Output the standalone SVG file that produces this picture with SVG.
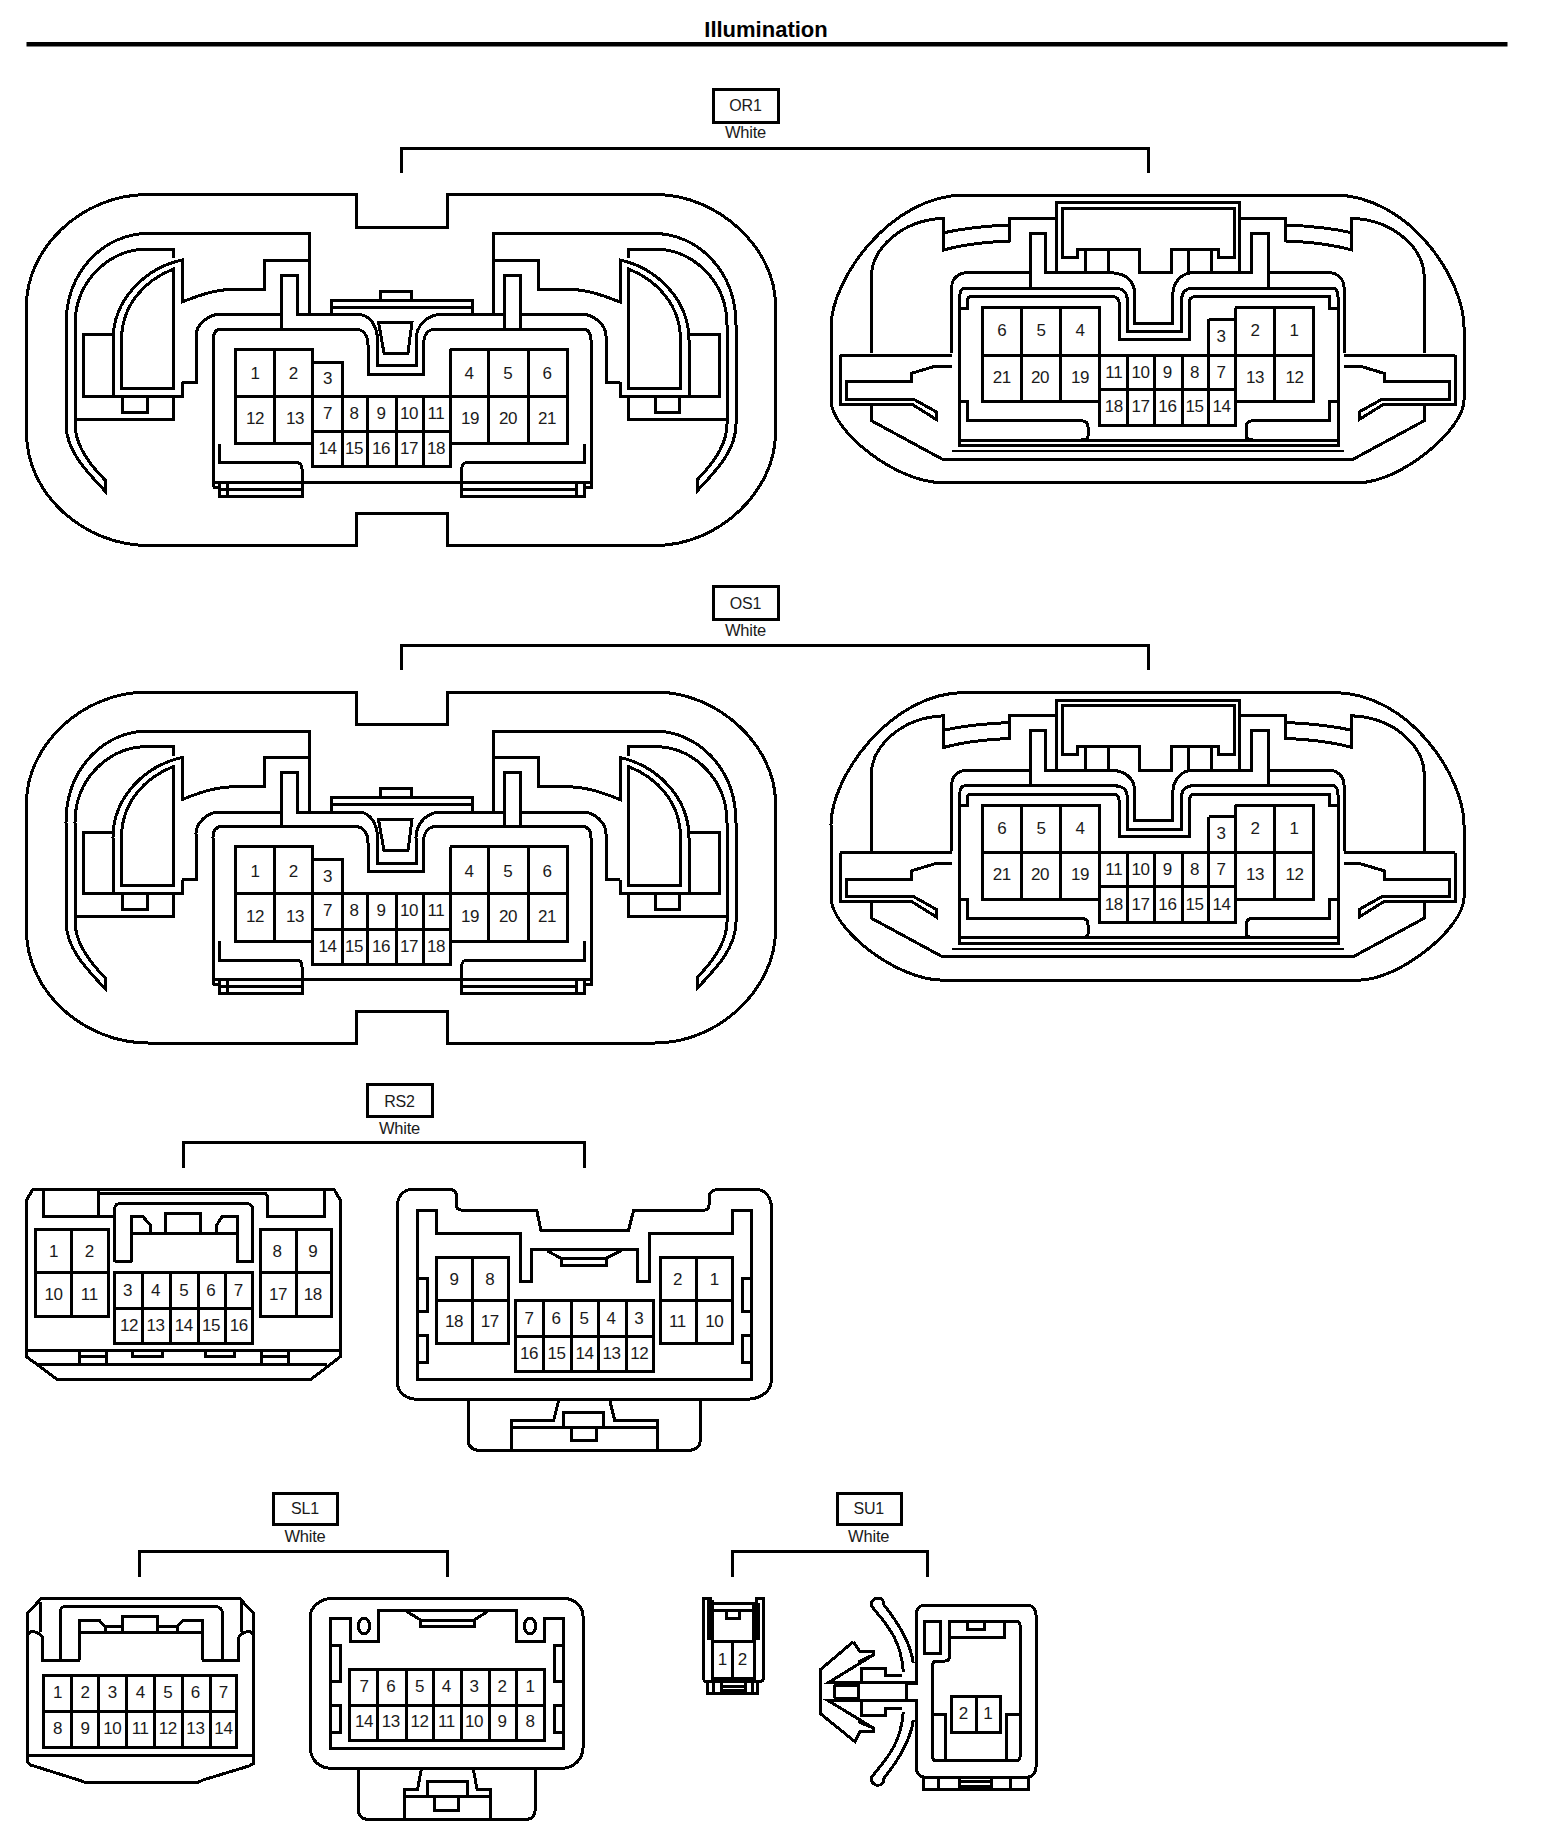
<svg xmlns="http://www.w3.org/2000/svg" xmlns:xlink="http://www.w3.org/1999/xlink" width="1568" height="1848" viewBox="0 0 1568 1848">
<style>
.l{fill:none;stroke:#000;stroke-width:3;stroke-linejoin:miter;shape-rendering:crispEdges}
.t{font-family:"Liberation Sans",Arial,sans-serif;font-size:17px;letter-spacing:-.4px;text-anchor:middle;fill:#1a1a1a}
.n{font-family:"Liberation Sans",Arial,sans-serif;font-size:16px;letter-spacing:-.2px;text-anchor:middle;fill:#1a1a1a}
.c{font-family:"Liberation Sans",Arial,sans-serif;font-size:16.5px;letter-spacing:-.2px;text-anchor:middle;fill:#1a1a1a}
</style>
<defs>
<path id="orWing" class="l" d="M309 314.5V233.5H148C105 233.5 66 270 66 325V424C66 450 85 470 105 491V480C90 465 75 445 75 424V325C75 280 110 249 148 249H173.5V258M309 260H264V289H240C215 289 200 295 182 302V260C145 268 113 300 113 340V396H83V334.5H113M121.5 388V340C121.5 305 145 280 173.5 269V388ZM182 382V396H113M182 382H196V336C196 325 208 314.5 219 314.5H281.5M173.5 396V419H75M122.5 396V412H147V396"/>
<g id="orLeft">
<path class="l" d="M356 194.5H148C80 194.5 26.5 250 26.5 305V433C26.5 495 85 545.5 148 545.5H356V513.5H447.5V545.5H655C720 545.5 775.5 490 775.5 433V305C775.5 250 720 194.5 655 194.5H447.5V227H356Z"/>
<use xlink:href="#orWing" href="#orWing"/>
<use xlink:href="#orWing" href="#orWing" transform="translate(802 0) scale(-1 1)"/>
<path class="l" d="M281.5 329V275H297.5V314.5H360C370 316 377 325 377.5 340V365.5H416V340C416 325 428 314.5 441 314.5H504.5V329M504.5 314.5V275H520.5V329M378.5 322H412L408 353H384ZM213 487V340C213 333 216 329 222 329H355C363 329 368 335 368 345V374H423.5V345C423.5 335 428 329 436 329H582C588 329 591 333 591 340V487H584M213 487H219.4M213 482H591M331.5 313V300H472V313M331.5 307.3H472M380 300V291H411V300"/>
<path class="l" d="M219.4 443.6V462.5H296C300 462.5 302 465 302 469V482M219.4 482V496H302V482M227 482V496M219.4 489H302M584 443.6V462.5H467C464 462.5 461.7 465 461.7 469V482M461.7 482V496H584V482M576.5 482V496M461.7 489H576.5"/>
<path class="l" d="M235.7 349H312.8V443.6H235.7ZM274.5 349V443.6M235.7 396.4H567.3M312.8 362H342V466.5H312.8V349M312.8 431.6H450M342 466.5H450V349M367.3 396.4V466.5M396.4 396.4V466.5M423.5 396.4V466.5M450 349H567.3V443.6H450M488.8 349V443.6M528 349V443.6"/>
</g>
<path id="orArm" class="l" d="M871.4 353.3V276.7C871.4 250 900 220 943.8 218.3V250C965 244 985 242 1009.8 241V218.3H1056.7M943.8 232.7C965 228 985 226 1009.8 225M840.2 355H951.8M840.2 355V404H911.6L936 419.3V411.7L913.8 399.3H846V381.7H911.6V373.3L936 366H951.8M871.4 405V420.7L942 459H1147.8"/>
<g id="orRight">
<path class="l" d="M965 195H1333.5C1410 195 1464 280 1464 327V400C1464 430 1400 482.7 1358 482.7H943C895 482.7 831 430 831 400V327C831 280 890 195 965 195Z"/>
<use xlink:href="#orArm" href="#orArm"/>
<use xlink:href="#orArm" href="#orArm" transform="translate(2295.6 0) scale(-1 1)"/>
<path class="l" d="M1056.7 272.7V202.7H1239.7V272.7M1062 208.3H1234V257.3H1218.8V249.3H1171.4V272.7H1139.3V249.3H1077.7V257.3H1062ZM1085.7 249.3V272.7M1108 249.3V272.7M1188.4 249.3V272.7M1211.6 249.3V272.7"/>
<path class="l" d="M951.8 353.3V286.7C951.8 279 958 272.7 967.4 272.7H1030V233.3H1045.5V272.7H1112.5C1125 274 1134.8 280 1134.8 295V323.3H1172.8V295C1172.8 282 1182 272.7 1192.9 272.7H1251V233.3H1268.7V272.7H1329C1337 272.7 1344 279 1344 287V353.3M1030 272.7V288.3M1268.7 272.7V288.3"/>
<path class="l" d="M959.8 445.7V296.7C959.8 292 961 288.3 965 288.3H1114.7C1122 288.3 1127.2 292 1127.2 299V331.7H1181.7V299C1181.7 292 1186 288.3 1192.9 288.3H1333.5C1336 288.3 1338 292 1338 297V445.7ZM959.8 308.3H967.4V300C967.4 298 969 296.7 972 296.7H1112.5C1117 296.7 1119.2 299 1119.2 303.3V339.3H1189.3V303C1189.3 299 1191 296.7 1195 296.7H1329V308.3H1338M959.8 401.7H967.4V420.7H1081C1086 420.7 1088 423 1088 427V436C1088 438 1086 440 1081 440M1338 401.7H1329V420.7H1253C1248 420.7 1246.4 423 1246.4 427V436C1246.4 438 1248 440 1253 440M959.8 440H1338"/>
<path class="l" style="stroke-width:2" d="M951.8 451H1343.8"/>
<path class="l" d="M982 307.7H1099V401.7H982ZM1021.9 307.7V401.7M1060.3 307.7V401.7M982 355H1313.4M1099 307.7V425H1235.3V307.7M1099 389.3H1235.3M1127.2 355V425M1154 355V425M1182.6 355V425M1208.5 319.3V425M1208.5 319.3H1235.3M1235.3 307.7H1313.4V401.7H1235.3M1274.6 307.7V401.7"/>
</g>
</defs>

<g id="title">
<text x="766" y="37" font-family="Liberation Sans, Arial, sans-serif" font-size="22" font-weight="bold" text-anchor="middle">Illumination</text>
<rect x="26.5" y="42" width="1481" height="4.5" fill="#000"/>
</g>

<g id="connectors">
<path class="l" d="M401.5 172.7V148H1148V172.7"/>
<path class="l" d="M401.5 670.2V645.5H1148V670.2"/>
<path class="l" d="M183.7 1168.3V1142.3H584V1168.3"/>
<path class="l" d="M139.8 1576.7V1551.7H447V1576.7"/>
<path class="l" d="M732.3 1576.7V1551.7H927.3V1576.7"/>
</g>

<g id="OR1-label">
<rect class="l" x="713" y="89" width="65" height="33"/>
<text class="n" x="745.5" y="111">OR1</text>
<text class="c" x="745.5" y="138">White</text>
</g>
<g id="OR1-left">
<use xlink:href="#orLeft" href="#orLeft"/>
<g id="OR1-left-pins">
<text class="t" x="255" y="379">1</text><text class="t" x="293.4" y="379">2</text><text class="t" x="327.5" y="384">3</text><text class="t" x="469" y="379">4</text><text class="t" x="507.7" y="379">5</text><text class="t" x="547" y="379">6</text>
<text class="t" x="327.5" y="418.7">7</text><text class="t" x="354" y="418.7">8</text><text class="t" x="381" y="418.7">9</text><text class="t" x="409" y="418.7">10</text><text class="t" x="436" y="418.7">11</text>
<text class="t" x="255" y="424">12</text><text class="t" x="295" y="424">13</text><text class="t" x="470" y="424">19</text><text class="t" x="508" y="424">20</text><text class="t" x="547" y="424">21</text>
<text class="t" x="327.5" y="454.4">14</text><text class="t" x="354" y="454.4">15</text><text class="t" x="381" y="454.4">16</text><text class="t" x="409" y="454.4">17</text><text class="t" x="436" y="454.4">18</text>
</g>
</g>
<g id="OR1-right">
<use xlink:href="#orRight" href="#orRight"/>
<g id="OR1-right-pins">
<text class="t" x="1001.8" y="336">6</text><text class="t" x="1041" y="336">5</text><text class="t" x="1080" y="336">4</text><text class="t" x="1221" y="341.7">3</text><text class="t" x="1255" y="336">2</text><text class="t" x="1294" y="336">1</text>
<text class="t" x="1113.8" y="377.7">11</text><text class="t" x="1140.6" y="377.7">10</text><text class="t" x="1167.4" y="377.7">9</text><text class="t" x="1194.6" y="377.7">8</text><text class="t" x="1221" y="377.7">7</text>
<text class="t" x="1001.8" y="382.7">21</text><text class="t" x="1040" y="382.7">20</text><text class="t" x="1080" y="382.7">19</text><text class="t" x="1255" y="382.7">13</text><text class="t" x="1294.6" y="382.7">12</text>
<text class="t" x="1113.8" y="412">18</text><text class="t" x="1140.6" y="412">17</text><text class="t" x="1167.4" y="412">16</text><text class="t" x="1194.6" y="412">15</text><text class="t" x="1221.5" y="412">14</text>
</g>
</g>

<g id="OS1-label" transform="translate(0 497.5)">
<rect class="l" x="713" y="89" width="65" height="33"/>
<text class="n" x="745.5" y="111">OS1</text>
<text class="c" x="745.5" y="138">White</text>
</g>
<g id="OS1-left" transform="translate(0 497.5)">
<use xlink:href="#orLeft" href="#orLeft"/>
<g id="OS1-left-pins">
<text class="t" x="255" y="379">1</text><text class="t" x="293.4" y="379">2</text><text class="t" x="327.5" y="384">3</text><text class="t" x="469" y="379">4</text><text class="t" x="507.7" y="379">5</text><text class="t" x="547" y="379">6</text>
<text class="t" x="327.5" y="418.7">7</text><text class="t" x="354" y="418.7">8</text><text class="t" x="381" y="418.7">9</text><text class="t" x="409" y="418.7">10</text><text class="t" x="436" y="418.7">11</text>
<text class="t" x="255" y="424">12</text><text class="t" x="295" y="424">13</text><text class="t" x="470" y="424">19</text><text class="t" x="508" y="424">20</text><text class="t" x="547" y="424">21</text>
<text class="t" x="327.5" y="454.4">14</text><text class="t" x="354" y="454.4">15</text><text class="t" x="381" y="454.4">16</text><text class="t" x="409" y="454.4">17</text><text class="t" x="436" y="454.4">18</text>
</g>
</g>
<g id="OS1-right" transform="translate(0 497.5)">
<use xlink:href="#orRight" href="#orRight"/>
<g id="OS1-right-pins">
<text class="t" x="1001.8" y="336">6</text><text class="t" x="1041" y="336">5</text><text class="t" x="1080" y="336">4</text><text class="t" x="1221" y="341.7">3</text><text class="t" x="1255" y="336">2</text><text class="t" x="1294" y="336">1</text>
<text class="t" x="1113.8" y="377.7">11</text><text class="t" x="1140.6" y="377.7">10</text><text class="t" x="1167.4" y="377.7">9</text><text class="t" x="1194.6" y="377.7">8</text><text class="t" x="1221" y="377.7">7</text>
<text class="t" x="1001.8" y="382.7">21</text><text class="t" x="1040" y="382.7">20</text><text class="t" x="1080" y="382.7">19</text><text class="t" x="1255" y="382.7">13</text><text class="t" x="1294.6" y="382.7">12</text>
<text class="t" x="1113.8" y="412">18</text><text class="t" x="1140.6" y="412">17</text><text class="t" x="1167.4" y="412">16</text><text class="t" x="1194.6" y="412">15</text><text class="t" x="1221.5" y="412">14</text>
</g>
</g>

<g id="RS2-label">
<rect class="l" x="367.3" y="1084" width="64.7" height="32.7"/>
<text class="n" x="399.5" y="1106.5">RS2</text>
<text class="c" x="399.5" y="1133.5">White</text>
</g>
<g id="RS2-left">
<path class="l" d="M33 1189.3H334L340.3 1200V1356.7L311 1379.3H57L26.5 1356.7V1200ZM26.5 1350.7H340.3M38 1364H326.5M43.4 1191V1216.7H113.3M98 1191V1216.7M99.5 1193.3H265.3L267.9 1197V1216.7H324V1191"/>
<path class="l" d="M114.8 1261.7V1208.3C114.8 1205 118 1203.3 122.4 1203.3H245C249 1203.3 252.6 1205 252.6 1208.3V1261.7H237.2V1216.7H222L216.8 1225V1233.3M131.6 1233.3H237.2M131.6 1261.7V1216.7H142.9L150.5 1225V1233.3M114.8 1261.7H131.6M165.8 1233.3V1213.3H200.5V1233.3"/>
<path class="l" d="M79 1351V1364M106 1351V1364M79 1356.7H106M132.7 1351V1356H162V1351M205 1351V1356H234.7V1351M261 1351V1364M288 1351V1364M261 1356.7H288"/>
<path class="l" d="M35.7 1229.3H108.2V1316.7H35.7ZM71.4 1229.3V1316.7M35.7 1272.7H108.2M260.2 1229.3H331.6V1316.7H260.2ZM296 1229.3V1316.7M260.2 1272.7H331.6M114.8 1272.7H252.6V1343.3H114.8ZM114.8 1308.3H252.6M142.9 1272.7V1343.3M170 1272.7V1343.3M198 1272.7V1343.3M225.5 1272.7V1343.3"/>
<text class="t" x="53.6" y="1257">1</text><text class="t" x="89.3" y="1257">2</text><text class="t" x="277" y="1257">8</text><text class="t" x="312.8" y="1257">9</text>
<text class="t" x="53.6" y="1299.5">10</text><text class="t" x="89.3" y="1299.5">11</text><text class="t" x="278" y="1299.5">17</text><text class="t" x="312.8" y="1299.5">18</text>
<text class="t" x="127.6" y="1296">3</text><text class="t" x="155.6" y="1296">4</text><text class="t" x="183.7" y="1296">5</text><text class="t" x="210.7" y="1296">6</text><text class="t" x="238.3" y="1296">7</text>
<text class="t" x="129" y="1331">12</text><text class="t" x="155.6" y="1331">13</text><text class="t" x="183.7" y="1331">14</text><text class="t" x="211" y="1331">15</text><text class="t" x="238.8" y="1331">16</text>
</g>
<g id="RS2-right">
<path class="l" d="M413 1189.3H449C454 1189.3 456.6 1192 456.6 1197V1205C456.6 1208 458 1210 461 1210H536.7L540.8 1230H628.6L633.7 1210H705C708 1210 709 1208 709 1205V1197C709 1192 714 1189.3 719.4 1189.3H755C765 1189.3 771.4 1197 771.4 1208V1380C771.4 1392 760 1399.3 745 1399.3H418C405 1399.3 397 1392 397 1380V1208C397 1197 403 1189.3 413 1189.3Z"/>
<path class="l" d="M417.3 1210H436.2V1233.3H520.4V1281.7H531.6V1249.3H637.8V1281.7H649V1233.3H732V1210H751V1379.3H417.3ZM417.3 1278.3H427V1311H417.3M417.3 1335H427V1362.7H417.3M751 1278.3H742.3V1311H751M751 1335H742.3V1362.7H751M547 1250.7L561 1258.3V1265H606V1258.3L621.4 1250.7M561 1258.3H606"/>
<path class="l" d="M468.4 1400V1441.7C468.4 1447 474 1450.7 482 1450.7H686C694 1450.7 700 1447 700 1441.7V1400M558.7 1400L553.6 1420.7H511.2V1450.7M609.7 1400L614.8 1420.7H657V1450.7M511.2 1427.3H657M563.8 1427.3V1412.7H603.6V1427.3M571.4 1427.3V1440H596V1427.3"/>
<path class="l" d="M436.2 1257.3H508.7V1343.3H436.2ZM472 1257.3V1343.3M436.2 1300.7H508.7M515.3 1300H653V1371.7H515.3ZM515.3 1336H653M543.4 1300V1371.7M571.4 1300V1371.7M598.5 1300V1371.7M626.5 1300V1371.7M660.7 1257.3H732V1343.3H660.7ZM696.4 1257.3V1343.3M660.7 1300.7H732"/>
<text class="t" x="454" y="1284.5">9</text><text class="t" x="489.8" y="1284.5">8</text><text class="t" x="454" y="1327">18</text><text class="t" x="489.8" y="1327">17</text>
<text class="t" x="529" y="1324">7</text><text class="t" x="556" y="1324">6</text><text class="t" x="584" y="1324">5</text><text class="t" x="611" y="1324">4</text><text class="t" x="638.8" y="1324">3</text>
<text class="t" x="529" y="1359">16</text><text class="t" x="556.6" y="1359">15</text><text class="t" x="584.6" y="1359">14</text><text class="t" x="611.6" y="1359">13</text><text class="t" x="639.3" y="1359">12</text>
<text class="t" x="677.5" y="1284.5">2</text><text class="t" x="714.3" y="1284.5">1</text><text class="t" x="677.5" y="1327">11</text><text class="t" x="714.3" y="1327">10</text>
</g>

<g id="SL1-label">
<rect class="l" x="273.9" y="1493.3" width="63.1" height="31"/>
<text class="n" x="305" y="1514">SL1</text>
<text class="c" x="305" y="1541.5">White</text>
</g>
<g id="SL1-left">
<path class="l" d="M41.4 1598.3H239.5L253.6 1613.3V1763.3L249 1766L203 1780L197.3 1782.7H86.2L78.5 1780L30.7 1765L27.6 1761.7V1613.3ZM27.6 1755H253.6"/>
<path class="l" d="M40.2 1601.7V1632M241 1601.7V1632M27.6 1635C29 1632 31 1631.7 32.6 1631.7C36 1631.7 42.9 1634 42.9 1640V1660H79.7M253.6 1635C252 1632 250 1631.7 248.6 1631.7C245 1631.7 238.3 1634 238.3 1640V1660H202.3M60.2 1660V1611.7C60.2 1609 62 1606.7 65 1606.7H216.5C219 1606.7 222.2 1609 222.2 1611.7V1660M79.7 1660V1620H98.9L105.4 1626.7V1632.7M79.7 1632.7H202.3V1620H183.1L177 1626.7V1632.7M202.3 1632.7V1660M122.6 1632.7V1616.7H157.9V1632.7M105.4 1626.7H122.6M157.9 1626.7H177"/>
<path class="l" d="M43.3 1675H236.8V1747.3H43.3ZM43.3 1711H236.8M71.6 1675V1747.3M98.9 1675V1747.3M126.4 1675V1747.3M154.4 1675V1747.3M182 1675V1747.3M210 1675V1747.3"/>
<text class="t" x="57.5" y="1698">1</text><text class="t" x="85" y="1698">2</text><text class="t" x="112.3" y="1698">3</text><text class="t" x="140.2" y="1698">4</text><text class="t" x="167.8" y="1698">5</text><text class="t" x="195.4" y="1698">6</text><text class="t" x="223.4" y="1698">7</text>
<text class="t" x="57.5" y="1734.3">8</text><text class="t" x="85" y="1734.3">9</text><text class="t" x="112.3" y="1734.3">10</text><text class="t" x="140.2" y="1734.3">11</text><text class="t" x="167.8" y="1734.3">12</text><text class="t" x="195.4" y="1734.3">13</text><text class="t" x="223.4" y="1734.3">14</text>
</g>
<g id="SL1-right">
<path class="l" d="M333.3 1598.3H563.2C575 1598.3 583.1 1607 583.1 1616.7V1746.7C583.1 1760 573 1768.3 561.3 1768.3H331.4C319 1768.3 310.3 1760 310.3 1746.7V1616.7C310.3 1607 320 1598.3 333.3 1598.3Z"/>
<path class="l" d="M330.3 1618.3H350.6V1641.7H378.2V1610H516.5V1641.7H544V1618.3H563.2V1748.3H330.3ZM330.3 1645H340V1681H330.3M330.3 1705H340V1732.7H330.3M563.2 1645H554.4V1681H563.2M563.2 1705H554.4V1732.7H563.2M407 1611.7L420.7 1620V1626.7H474V1620L487.4 1611.7M420.7 1620H474"/>
<ellipse class="l" cx="364" cy="1626" rx="5.8" ry="7.8"/>
<ellipse class="l" cx="530" cy="1626" rx="5.8" ry="7.8"/>
<path class="l" d="M358.2 1768.3V1810C358.2 1815 362 1819.3 367.8 1819.3H526.8C532 1819.3 535.2 1815 535.2 1810V1768.3M421.5 1768.3L417.6 1789H404.2V1819.3M473.2 1768.3L477 1789H490.4V1819.3M404.2 1796H490.4M427.2 1796V1781.7H467.4V1796M434.9 1796V1810H458.6V1796"/>
<path class="l" d="M349.4 1669.3H544V1740H349.4ZM349.4 1705H544M377.4 1669.3V1740M406 1669.3V1740M433.7 1669.3V1740M461 1669.3V1740M489.3 1669.3V1740M516.5 1669.3V1740"/>
<text class="t" x="364" y="1691.7">7</text><text class="t" x="390.8" y="1691.7">6</text><text class="t" x="419.5" y="1691.7">5</text><text class="t" x="446.4" y="1691.7">4</text><text class="t" x="474" y="1691.7">3</text><text class="t" x="502" y="1691.7">2</text><text class="t" x="530" y="1691.7">1</text>
<text class="t" x="364" y="1727">14</text><text class="t" x="390.8" y="1727">13</text><text class="t" x="419.5" y="1727">12</text><text class="t" x="446.4" y="1727">11</text><text class="t" x="474" y="1727">10</text><text class="t" x="502" y="1727">9</text><text class="t" x="530" y="1727">8</text>
</g>

<g id="SU1-label">
<rect class="l" x="837.3" y="1493.3" width="64.4" height="31"/>
<text class="n" x="868.7" y="1514">SU1</text>
<text class="c" x="868.7" y="1541.5">White</text>
</g>
<g id="SU1-left">
<path class="l" d="M703.3 1598.3H710V1603.3H756V1598.3H763.3V1678C763.3 1680 762 1681.7 760 1681.7H706.7C705 1681.7 703.3 1680 703.3 1678ZM710 1610.7H756M726.7 1612V1618.3H739.3V1612M707.7 1681.7V1693.3H757.3V1681.7M713.3 1681.7V1693.3M721.7 1681.7V1693.3M745 1681.7V1693.3M752.7 1681.7V1693.3M721.7 1686.7H745M721.7 1690H745"/>
<path d="M707 1600H714V1640H707ZM752 1603H760V1640H752Z" fill="#000"/>
<path class="l" d="M712.7 1641.7H754V1678.3H712.7ZM732.3 1641.7V1678.3"/>
<text class="t" x="722.3" y="1665">1</text><text class="t" x="742.3" y="1665">2</text>
</g>
<g id="SU1-right">
<path class="l" d="M905 1683.3H916V1615C916 1609 920 1605 925 1605H1027C1032 1605 1036 1609 1036 1615V1767C1036 1773 1032 1777.3 1027 1777.3H925C920 1777.3 916 1773 916 1767V1700H905"/>
<path class="l" d="M949.3 1621.7H1016.7C1019 1621.7 1020 1623 1020 1625V1756.7C1020 1759 1019 1760.7 1016.7 1760.7H936C934 1760.7 932.7 1759 932.7 1756.7V1665C932.7 1662 934 1661 936 1661H945C948 1661 949.3 1660 949.3 1658ZM924 1621.7H940.7V1653.3H924ZM949.3 1637.3H1004V1621.7M967.3 1621.7V1629.3H984V1621.7M932.7 1714H945V1760.7M1020 1714H1006.7V1760.7"/>
<path class="l" d="M923.3 1778V1789.3H1028.3V1778M938.3 1778V1789.3M959.3 1778V1789.3M991.7 1778V1789.3M1010.7 1778V1789.3M959.3 1781.7H991.7M959.3 1786H991.7"/>
<path class="l" d="M951.7 1696.7H1000V1732.7H951.7ZM976 1696.7V1732.7"/>
<text class="t" x="963.3" y="1719.3">2</text><text class="t" x="987.7" y="1719.3">1</text>
<path class="l" d="M913.3 1663.3C911 1645 900 1625 884 1605C884 1600 881 1598 878 1598C874 1598 871 1601 871 1605C871 1606 872 1607 873.3 1608.3C888 1626 901 1640 903.3 1671.7M913.3 1720C911 1738 900 1758 884 1778.3C884 1783 881 1785.3 878 1785.3C874 1785.3 871 1782 871 1778.3C871 1777 872 1776 873.3 1775C888 1757 901 1743 903.3 1711.6"/>
<path class="l" d="M853.3 1641.7L820 1670V1713.3L855 1741.7L860 1731.6H873.3V1728L828.3 1700.7H916M853.3 1641.7L860 1651.7H873.3V1655L828.3 1682.7H916M858.3 1661.7L873.3 1655M858.3 1721.7L873.3 1728"/>
<path class="l" d="M861.7 1682.7V1668.3H885V1675H901.7M861.7 1700.7V1715H885V1708.3H901.7M834 1685V1698.3M858.3 1683V1700M834 1685H858M834 1698.3H858M906.7 1683V1700"/>
</g>
</svg>
